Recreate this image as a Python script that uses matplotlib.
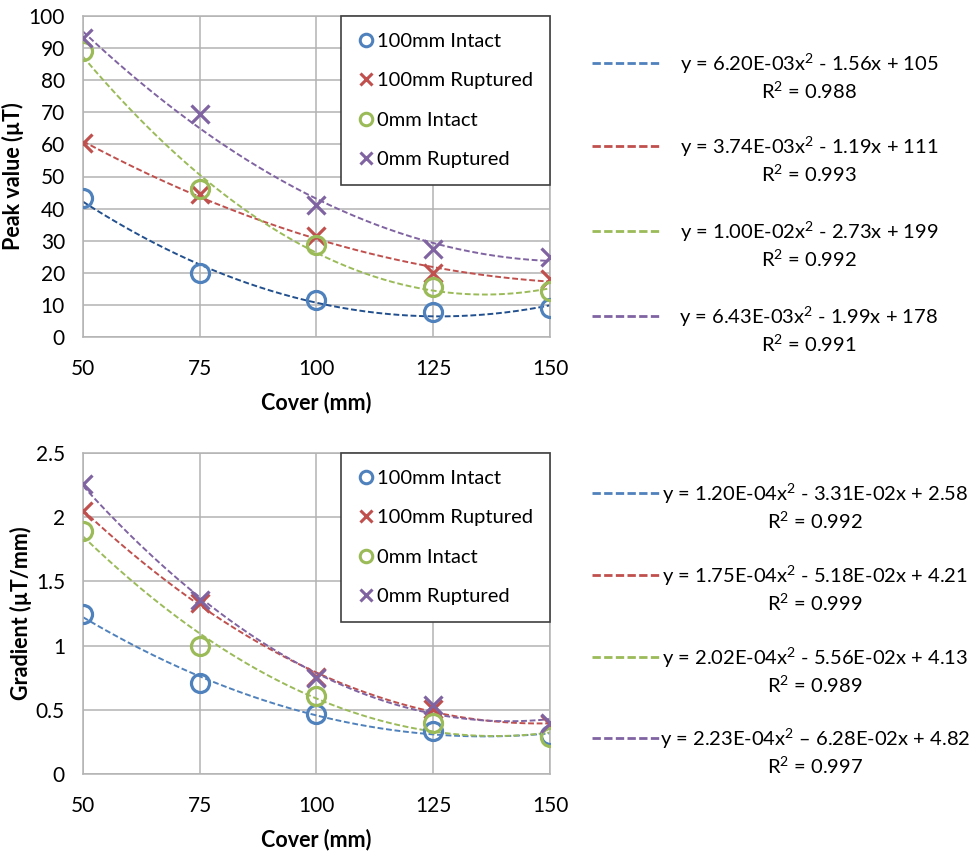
import numpy as np
import matplotlib
matplotlib.use("Agg")
import matplotlib.pyplot as plt
from matplotlib.lines import Line2D

plt.rcParams["font.family"] = ["Lato", "DejaVu Sans"]
plt.rcParams["mathtext.fontset"] = "custom"
plt.rcParams["mathtext.rm"] = "Lato"
plt.rcParams["mathtext.it"] = "Lato"

# --- Daten ---
cover = [50, 75, 100, 125, 150]
series_names = ["100mm Intact", "100mm Ruptured", "0mm Intact", "0mm Ruptured"]

peak_100_intact = [43.3, 20.0, 11.5, 7.9, 9.0]
peak_100_rupt = [60.4, 44.5, 31.4, 19.8, 18.1]
peak_0_intact = [89.1, 46.2, 28.6, 15.6, 14.2]
peak_0_rupt = [93.3, 69.4, 41.1, 27.5, 24.9]

grad_100_intact = [1.243, 0.712, 0.471, 0.337, 0.30]
grad_100_rupt = [2.05, 1.334, 0.759, 0.505, 0.389]
grad_0_intact = [1.896, 0.997, 0.609, 0.40, 0.285]
grad_0_rupt = [2.26, 1.355, 0.751, 0.536, 0.40]

SQ = r"$\mathregular{^2}$"
peak_eqs = [
    f"y = 6.20E-03x{SQ} - 1.56x + 105\nR{SQ} = 0.988",
    f"y = 3.74E-03x{SQ} - 1.19x + 111\nR{SQ} = 0.993",
    f"y = 1.00E-02x{SQ} - 2.73x + 199\nR{SQ} = 0.992",
    f"y = 6.43E-03x{SQ} - 1.99x + 178\nR{SQ} = 0.991",
]
grad_eqs = [
    f"y = 1.20E-04x{SQ} - 3.31E-02x + 2.58\nR{SQ} = 0.992",
    f"y = 1.75E-04x{SQ} - 5.18E-02x + 4.21\nR{SQ} = 0.999",
    f"y = 2.02E-04x{SQ} - 5.56E-02x + 4.13\nR{SQ} = 0.989",
    f"y = 2.23E-04x{SQ} – 6.28E-02x + 4.82\nR{SQ} = 0.997",
]

colors = ["#4F81BD", "#C0504D", "#9BBB59", "#8064A2"]
markers = ["o", "x", "o", "x"]
GRID = "#B3B3B3"
DASH = (0, (3, 1.4))

W, H = 969, 852
fig = plt.figure(figsize=(W / 100, H / 100), dpi=100)


def fy(py):
    return 1 - py / H


def fx(px):
    return px / W


def draw_panel(ax, data, ylim, yticks, ylabel, trend_colors):
    xs = np.linspace(cover[0], cover[-1], 200)
    handles = []
    for vals, c, m, tc, name in zip(data, colors, markers, trend_colors, series_names):
        # quadratische Trendlinie wie in Excel
        coef = np.polyfit(cover, vals, 2)
        ax.plot(xs, np.polyval(coef, xs), color=tc, lw=1.4, linestyle=DASH, zorder=2)
        if m == "o":
            ax.plot(cover, vals, linestyle="none", marker="o", ms=13, mfc="none",
                    mec=c, mew=2.3, zorder=3)
        else:
            ax.plot(cover, vals, linestyle="none", marker="x", ms=13, color=c,
                    mew=2.3, zorder=3)
        handles.append(Line2D([], [], linestyle="none", marker=m, ms=9,
                              mfc="none" if m == "o" else c, mec=c, mew=2.2,
                              label=name))

    ax.set_xlim(50, 150)
    ax.set_ylim(*ylim)
    ax.set_xticks(cover)
    ax.set_yticks(yticks)
    ax.set_yticklabels([f"{t:g}" for t in yticks])
    ax.grid(True, color=GRID, lw=1.1)
    ax.set_axisbelow(True)
    for s in ax.spines.values():
        s.set_color(GRID)
        s.set_linewidth(1.1)
    ax.tick_params(length=0, labelsize=15, colors="black")
    ax.tick_params(axis="y", pad=13)
    ax.tick_params(axis="x", pad=16)
    ax.set_xlabel("Cover (mm)", fontsize=15.5, fontweight="bold", labelpad=9)
    ax.set_ylabel(ylabel, fontsize=15.5, fontweight="bold", labelpad=3)

    leg = ax.legend(handles=handles, loc="upper right", borderaxespad=0.0,
                    fontsize=14.5, handlelength=0.8, handletextpad=0.15,
                    labelspacing=1.1, borderpad=0.85, fancybox=False,
                    framealpha=1.0, edgecolor="#404040")
    leg.get_frame().set_linewidth(1.2)
    return leg


ax1 = fig.add_axes([fx(83), fy(337), fx(550 - 83), (337 - 16) / H])
draw_panel(ax1, [peak_100_intact, peak_100_rupt, peak_0_intact, peak_0_rupt],
           (0, 100), list(range(0, 101, 10)), "Peak value (µT)",
           ["#22508F", colors[1], colors[2], colors[3]])

ax2 = fig.add_axes([fx(83), fy(774), fx(550 - 83), (774 - 453) / H])
draw_panel(ax2, [grad_100_intact, grad_100_rupt, grad_0_intact, grad_0_rupt],
           (0, 2.5), [0, 0.5, 1, 1.5, 2, 2.5], "Gradient (µT/mm)",
           colors)

# Trendlinien-Legende rechts (Gleichungen)
peak_line_y = [63, 146, 231, 316]
grad_line_y = [493, 575, 657, 738]
for eqs, line_ys, text_x in [(peak_eqs, peak_line_y, 809), (grad_eqs, grad_line_y, 815)]:
    for eq, c, ly in zip(eqs, colors, line_ys):
        fig.add_artist(Line2D([fx(592), fx(659)], [fy(ly), fy(ly)], color=c,
                              lw=2.0, linestyle=(0, (3, 1.2))))
        fig.text(fx(text_x), fy(ly - 11), eq, ha="center", va="top",
                 multialignment="center", fontsize=14.5, linespacing=1.25)

fig.savefig("out.png", dpi=100)
